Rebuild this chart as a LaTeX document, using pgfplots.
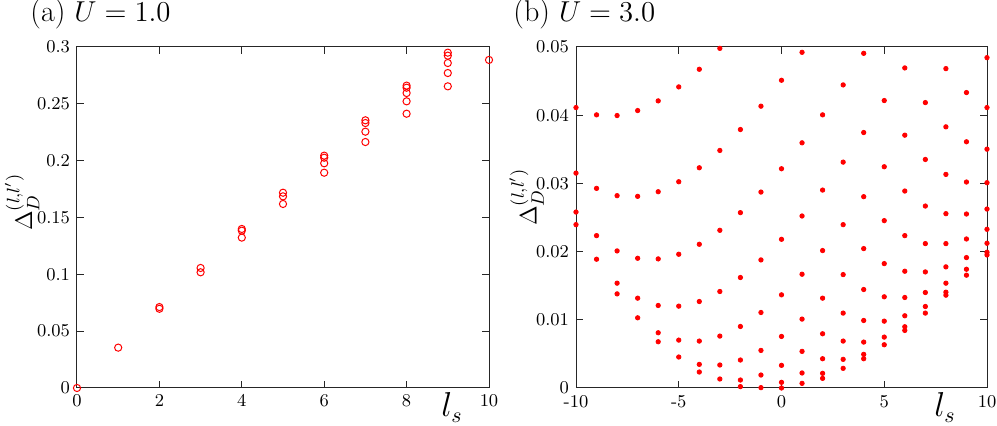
\documentclass[border=0pt]{standalone}
\usepackage{pgfplots}
\pgfplotsset{compat=1.18}

\pgfplotsset{
  panel/.style={
    scale only axis,
    height=170.5pt,
    clip=false,
    scaled y ticks=false,
    scaled x ticks=false,
    axis line style={black!85, line width=0.5pt},
    tick style={black!85, line width=0.5pt},
    tick align=inside,
    major tick length=3.5pt,
    tick label style={font=\fontsize{9}{10}\selectfont},
    ylabel style={font=\fontsize{12.5}{14}\selectfont, anchor=center, rotate=0, inner sep=0pt},
    xlabel style={font=\fontsize{16}{18}\selectfont, anchor=base, inner sep=0pt},
  },
}

\begin{document}
\begin{tikzpicture}
\useasboundingbox (0,0) rectangle (498.5pt,213pt);

% (a) U = 1.0
\begin{axis}[panel,
    at={(38.5pt,19pt)}, anchor=south west,
    width=206pt,
    xmin=0, xmax=10, ymin=0, ymax=0.3,
    xtick={0,2,4,6,8,10},
    ytick={0,0.05,0.1,0.15,0.2,0.25,0.3},
    yticklabels={0,0.05,0.1,0.15,0.2,0.25,0.3},
    xlabel={$l_s$},
    xlabel style={at={(axis description cs:0.91,-0.085)}},
    ylabel={$\Delta_D^{(l,l')}$},
    ylabel style={at={(axis description cs:-0.133,0.545)}},
]
\addplot[only marks, mark=o, mark size=1.8pt, color=red, mark options={line width=0.5pt}] coordinates {
  (0,0)
  (1,0.0355)
  (2,0.0712) (2,0.0697)
  (3,0.1056) (3,0.1018)
  (4,0.1399) (4,0.1384) (4,0.1323)
  (5,0.1718) (5,0.1686) (5,0.1619)
  (6,0.2044) (6,0.2026) (6,0.1977) (6,0.1894)
  (7,0.2355) (7,0.2331) (7,0.2255) (7,0.2164)
  (8,0.2660) (8,0.2642) (8,0.2595) (8,0.2522) (8,0.2413)
  (9,0.2950) (9,0.2924) (9,0.2859) (9,0.2771) (9,0.2654)
  (10,0.2886)
};
\end{axis}

% (b) U = 3.0
\begin{axis}[panel,
    at={(288pt,19pt)}, anchor=south west,
    width=205.5pt,
    xmin=-10, xmax=10, ymin=0, ymax=0.05,
    xtick={-10,-5,0,5,10},
    xticklabels={-10,-5,0,5,10},
    ytick={0,0.01,0.02,0.03,0.04,0.05},
    yticklabels={0,0.01,0.02,0.03,0.04,0.05},
    xlabel={$l_s$},
    xlabel style={at={(axis description cs:0.898,-0.085)}},
    ylabel={$\Delta_D^{(l,l')}$},
    ylabel style={at={(axis description cs:-0.12,0.56)}},
]
\addplot[only marks, mark=*, mark size=1.1pt, color=red] coordinates {
  (-10,0.04112) (-10,0.03151) (-10,0.02580) (-10,0.02395)
  (-9,0.04005) (-9,0.02927) (-9,0.02234) (-9,0.01888)
  (-8,0.03995) (-8,0.02820) (-8,0.02010) (-8,0.01537) (-8,0.01380)
  (-7,0.04068) (-7,0.02810) (-7,0.01902) (-7,0.01317) (-7,0.01029)
  (-6,0.04210) (-6,0.02878) (-6,0.01893) (-6,0.01210) (-6,0.00810) (-6,0.00678)
  (-5,0.04415) (-5,0.03024) (-5,0.01961) (-5,0.01200) (-5,0.00702) (-5,0.00454)
  (-4,0.04673) (-4,0.03229) (-4,0.02107) (-4,0.01268) (-4,0.00688) (-4,0.00346) (-4,0.00234)
  (-3,0.04980) (-3,0.03483) (-3,0.02312) (-3,0.01415) (-3,0.00761) (-3,0.00337) (-3,0.00132)
  (-2,0.03790) (-2,0.02571) (-2,0.01620) (-2,0.00902) (-2,0.00410) (-2,0.00117) (-2,0.00020)
  (-1,0.04132) (-1,0.02873) (-1,0.01878) (-1,0.01107) (-1,0.00551) (-1,0.00190) (-1,0.00005)
  (0,0.04512) (0,0.03215) (0,0.02180) (0,0.01366) (0,0.00756) (0,0.00332) (0,0.00083) (0,0.00000)
  (1,0.04922) (1,0.03595) (1,0.02522) (1,0.01668) (1,0.01010) (1,0.00537) (1,0.00220) (1,0.00068)
  (2,0.04005) (2,0.02902) (2,0.02015) (2,0.01317) (2,0.00795) (2,0.00429) (2,0.00215) (2,0.00141)
  (3,0.04444) (3,0.03312) (3,0.02395) (3,0.01663) (3,0.01098) (3,0.00688) (3,0.00420) (3,0.00288)
  (4,0.04907) (4,0.03746) (4,0.02805) (4,0.02044) (4,0.01444) (4,0.00990) (4,0.00673) (4,0.00493) (4,0.00429)
  (5,0.04215) (5,0.03244) (5,0.02454) (5,0.01824) (5,0.01337) (5,0.00980) (5,0.00746) (5,0.00634)
  (6,0.04693) (6,0.03707) (6,0.02888) (6,0.02234) (6,0.01712) (6,0.01327) (6,0.01059) (6,0.00898) (6,0.00844)
  (7,0.04185) (7,0.03351) (7,0.02668) (7,0.02117) (7,0.01702) (7,0.01400) (7,0.01195) (7,0.01098)
  (8,0.04683) (8,0.03829) (8,0.03132) (8,0.02556) (8,0.02117) (8,0.01776) (8,0.01537) (8,0.01405) (8,0.01361)
  (9,0.04332) (9,0.03610) (9,0.03020) (9,0.02551) (9,0.02185) (9,0.01912) (9,0.01741) (9,0.01654)
  (10,0.04844) (10,0.04112) (10,0.03502) (10,0.03010) (10,0.02624) (10,0.02327) (10,0.02122) (10,0.01990) (10,0.01951)
};
\end{axis}

\node[anchor=base west, inner sep=0pt, font=\fontsize{15}{18}\selectfont] at (15pt,202pt) {(a) $U=1.0$};
\node[anchor=base west, inner sep=0pt, font=\fontsize{15}{18}\selectfont] at (256.5pt,202pt) {(b) $U=3.0$};
\end{tikzpicture}
\end{document}
